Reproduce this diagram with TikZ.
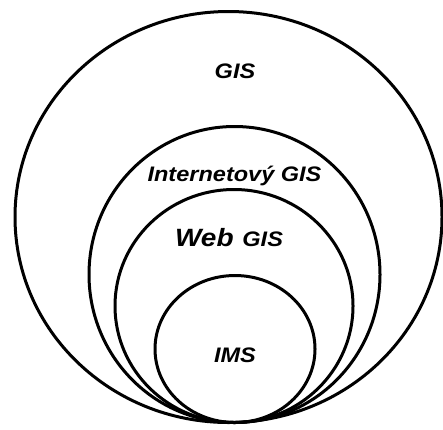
\documentclass[tikz,border=0pt]{standalone}
\usepackage{fontspec}
\usepackage{graphicx}
\setmainfont{Liberation Sans}
\newcommand{\widetxt}[1]{\scalebox{1.12}[1]{#1}}
\begin{document}
\begin{tikzpicture}[x=1pt,y=-1pt,
  ring/.style={draw=black, line width=3pt},
  lbl/.style={font=\bfseries\itshape\fontsize{21}{25}\selectfont, anchor=base, inner sep=0pt}]
\useasboundingbox (0,0) rectangle (443,429);
\draw[ring] (228.5,217) ellipse [x radius=213.5pt, y radius=205.5pt];
\draw[ring] (234.5,274.5) ellipse [x radius=145.5pt, y radius=148pt];
\draw[ring] (234,306) ellipse [x radius=119pt, y radius=116.5pt];
\draw[ring] (235,349) ellipse [x radius=80pt, y radius=73.5pt];
\node[lbl] (gis) at (235,78) {\widetxt{GIS}};
\node[lbl] (inet) at (234.5,181) {\widetxt{Internetový GIS}};
\node[lbl] (web) at (229,246) {\widetxt{{\fontsize{25}{29}\selectfont Web}\hspace{2pt} GIS}};
\node[lbl] (ims) at (235,362) {\widetxt{IMS}};
\end{tikzpicture}
\end{document}
